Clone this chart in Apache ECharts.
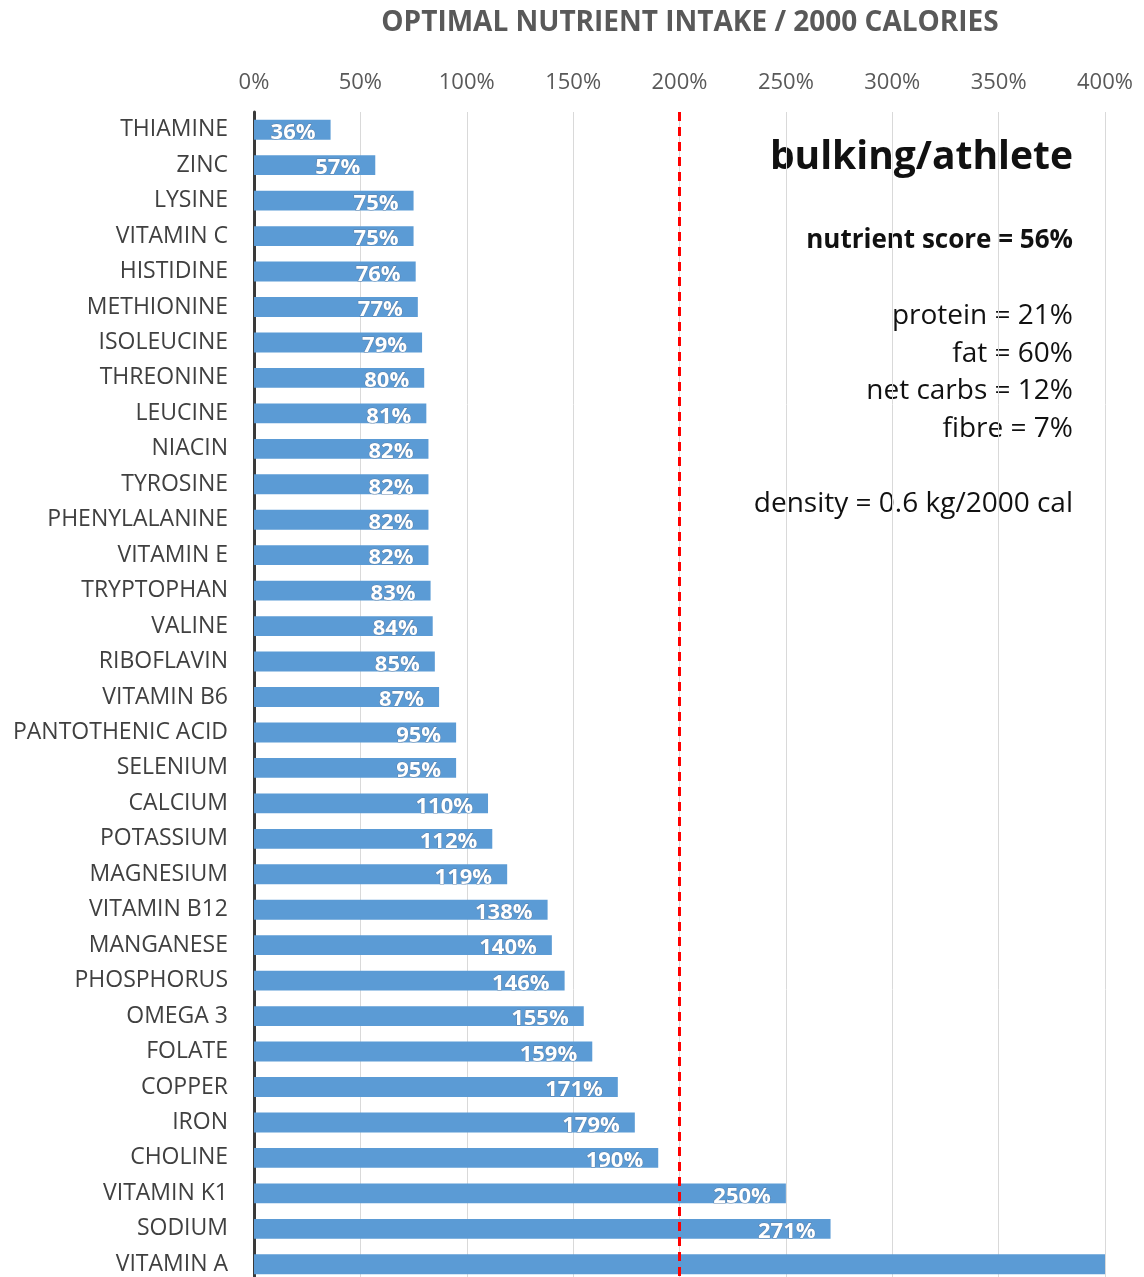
<!DOCTYPE html>
<html>
<head>
<meta charset="utf-8">
<script src="https://cdn.jsdelivr.net/npm/echarts@6/dist/echarts.min.js"></script>
<style>
  html, body { margin: 0; padding: 0; background: #fff; overflow: hidden; }
  #chart { width: 1144px; height: 1300px; }
</style>
</head>
<body>
<div id="chart"></div>
<script>
const nutrients = [
  'THIAMINE', 'ZINC', 'LYSINE', 'VITAMIN C', 'HISTIDINE', 'METHIONINE', 'ISOLEUCINE',
  'THREONINE', 'LEUCINE', 'NIACIN', 'TYROSINE', 'PHENYLALANINE', 'VITAMIN E',
  'TRYPTOPHAN', 'VALINE', 'RIBOFLAVIN', 'VITAMIN B6', 'PANTOTHENIC ACID', 'SELENIUM',
  'CALCIUM', 'POTASSIUM', 'MAGNESIUM', 'VITAMIN B12', 'MANGANESE', 'PHOSPHORUS',
  'OMEGA 3', 'FOLATE', 'COPPER', 'IRON', 'CHOLINE', 'VITAMIN K1', 'SODIUM', 'VITAMIN A'
];
const intake = [
  36, 57, 75, 75, 76, 77, 79, 80, 81, 82, 82, 82, 82, 83, 84, 85, 87, 95, 95,
  110, 112, 119, 138, 140, 146, 155, 159, 171, 179, 190, 250, 271, 400
];
const targetLine = 200;
const chartTitle = 'OPTIMAL NUTRIENT INTAKE / 2000 CALORIES';
const profileName = 'bulking/athlete';
const scoreText = 'nutrient score = 56%';
const macroLines = ['protein = 21%', 'fat = 60%', 'net carbs = 12%', 'fibre = 7%'];
const densityText = 'density = 0.6 kg/2000 cal';

const font = '"Open Sans", Lato, sans-serif';
const chart = echarts.init(document.getElementById('chart'));

// right-aligned notes in the upper right of the plot
const rightX = 1073;
const annotations = [
  { text: profileName, y: 155, size: 39, weight: 'bold' },
  { text: scoreText, y: 239, size: 26, weight: 'bold' }
].concat(macroLines.map((t, i) => ({ text: t, y: 314 + i * 37.7, size: 28, weight: 'normal' })))
 .concat([{ text: densityText, y: 502, size: 28, weight: 'normal' }]);

chart.setOption({
  animation: false,
  title: {
    text: chartTitle,
    left: 685,
    top: 4,
    textAlign: 'center',
    textStyle: { fontFamily: font, fontSize: 28, fontWeight: 'bold', color: '#595959' }
  },
  grid: { left: 254, right: 39, top: 112, height: 1170, containLabel: false },
  xAxis: {
    type: 'value',
    position: 'top',
    min: 0,
    max: 400,
    interval: 50,
    axisLine: { show: false },
    axisTick: { show: false },
    axisLabel: {
      formatter: '{value}%',
      fontFamily: font,
      fontSize: 22,
      color: '#595959',
      margin: 18
    },
    splitLine: { lineStyle: { color: '#d9d9d9', width: 1 } }
  },
  yAxis: {
    type: 'category',
    inverse: true,
    data: nutrients,
    axisLine: { lineStyle: { color: '#3a3a3a', width: 3 } },
    axisTick: { show: false },
    axisLabel: {
      fontFamily: font,
      fontSize: 23,
      color: '#404040',
      margin: 26
    }
  },
  series: [{
    type: 'bar',
    data: intake.map((v, i) => i === intake.length - 1
      ? { value: v, label: { show: false } }
      : v),
    barCategoryGap: '44%',
    itemStyle: { color: '#5B9BD5' },
    label: {
      show: true,
      position: 'insideRight',
      offset: [-10, 3],
      formatter: '{c}%',
      fontFamily: font,
      fontSize: 22,
      fontWeight: 'bold',
      color: '#ffffff',
      textBorderColor: 'rgba(90,110,140,0.6)',
      textBorderWidth: 1
    },
    markLine: {
      silent: true,
      symbol: 'none',
      label: { show: false },
      lineStyle: { color: '#ff0000', type: [9, 6], width: 3 },
      data: [{ xAxis: targetLine }]
    },
    z: 2
  }],
  graphic: annotations.map(a => ({
    type: 'text',
    right: 1144 - rightX,
    top: a.y - a.size * 0.43,
    style: {
      text: a.text,
      fontFamily: font,
      fontSize: a.size,
      fontWeight: a.weight,
      fill: '#111111',
      textAlign: 'right'
    }
  }))
});
</script>
</body>
</html>
